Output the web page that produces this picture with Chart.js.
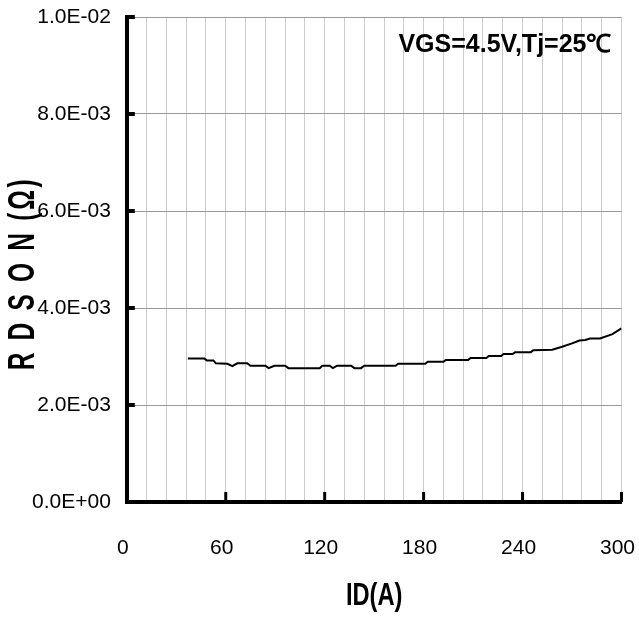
<!DOCTYPE html>
<html>
<head>
<meta charset="utf-8">
<script src="https://cdn.jsdelivr.net/npm/chart.js@4/dist/chart.umd.min.js"></script>
<style>
  html, body { margin: 0; padding: 0; background: #ffffff; }
  canvas { display: block; }
</style>
</head>
<body>
<canvas id="c" width="639" height="620"></canvas>
<script>
// ---- data ----
const idA = [37, 47, 48.5, 52.5, 54, 61, 64, 67, 73, 75, 84, 86, 89.5, 96, 98, 117, 118.5, 123, 125, 127.5,
             136, 138, 142, 144, 163, 164.5, 181, 182.5, 192, 193.5, 207, 208.5, 218, 219.5, 227, 228.5,
             234, 235.5, 245, 246.5, 258, 264, 270, 274.5, 278, 281, 287, 294.5, 300];
const rdsOn = [2.96e-3, 2.96e-3, 2.92e-3, 2.92e-3, 2.86e-3, 2.85e-3, 2.80e-3, 2.86e-3, 2.86e-3, 2.81e-3,
               2.81e-3, 2.76e-3, 2.81e-3, 2.81e-3, 2.76e-3, 2.76e-3, 2.81e-3, 2.81e-3, 2.76e-3, 2.81e-3,
               2.81e-3, 2.76e-3, 2.76e-3, 2.81e-3, 2.81e-3, 2.85e-3, 2.85e-3, 2.89e-3, 2.89e-3, 2.93e-3,
               2.93e-3, 2.97e-3, 2.97e-3, 3.01e-3, 3.01e-3, 3.05e-3, 3.05e-3, 3.09e-3, 3.09e-3, 3.13e-3,
               3.14e-3, 3.20e-3, 3.27e-3, 3.33e-3, 3.34e-3, 3.37e-3, 3.37e-3, 3.46e-3, 3.58e-3];
const xLabelValues = [0, 60, 120, 180, 240, 300];
const yTickValues = [0, 0.002, 0.004, 0.006, 0.008, 0.01];
const xTitle = 'ID(A)';
const yTitle = 'R D S O N (Ω)';
const noteText = 'VGS=4.5V,Tj=25℃';

const SANS = "'Liberation Sans', Arial, sans-serif";

function fmtE(v) {
  if (Math.abs(v) < 1e-12) return '0.0E+00';
  let e = Math.floor(Math.log10(Math.abs(v)) + 1e-9);
  let m = v / Math.pow(10, e);
  let ms = m.toFixed(1);
  if (ms === '10.0') { ms = '1.0'; e += 1; }
  const sign = e < 0 ? '-' : '+';
  const ea = Math.abs(e);
  return ms + 'E' + sign + (ea < 10 ? '0' + ea : '' + ea);
}

const points = idA.map((x, i) => ({ x: x, y: rdsOn[i] }));

const decorPlugin = {
  id: 'decor',
  afterDraw(chart) {
    const ctx = chart.ctx;
    const xs = chart.scales.x, ys = chart.scales.y;
    const area = chart.chartArea;
    ctx.save();
    ctx.strokeStyle = '#000';
    ctx.lineCap = 'butt';
    // inner y ticks
    ctx.lineWidth = 4;
    yTickValues.forEach(v => {
      if (v === 0) return;
      const py = ys.getPixelForValue(v);
      ctx.beginPath();
      ctx.moveTo(area.left, py);
      ctx.lineTo(area.left + 8, py);
      ctx.stroke();
    });
    // inner x ticks
    ctx.lineWidth = 3;
    xLabelValues.forEach(v => {
      if (v === 0) return;
      const px = xs.getPixelForValue(v);
      ctx.beginPath();
      ctx.moveTo(px, area.bottom);
      ctx.lineTo(px, area.bottom - 10);
      ctx.stroke();
    });
    ctx.restore();

    // y title (rotated, condensed)
    ctx.save();
    ctx.fillStyle = '#000';
    ctx.font = "bold 36px " + SANS;
    try { ctx.letterSpacing = '4px'; } catch (e) {}
    ctx.textAlign = 'center';
    ctx.textBaseline = 'middle';
    ctx.translate(24, (area.top + area.bottom) / 2 + 14);
    ctx.rotate(-Math.PI / 2);
    ctx.scale(0.68, 1);
    ctx.fillText(yTitle, 0, 0);
    ctx.restore();

    // x title (condensed)
    ctx.save();
    ctx.fillStyle = '#000';
    ctx.font = "bold 32px " + SANS;
    ctx.textAlign = 'center';
    ctx.textBaseline = 'middle';
    ctx.translate((area.left + area.right) / 2, 596);
    ctx.scale(0.74, 1);
    ctx.fillText(xTitle, 0, 0);
    ctx.restore();

    // annotation
    ctx.save();
    ctx.fillStyle = '#000';
    ctx.font = "bold 25px " + SANS;
    ctx.textAlign = 'right';
    ctx.textBaseline = 'middle';
    ctx.fillText(noteText, area.right - 10, area.top + 28);
    ctx.restore();
  }
};

new Chart(document.getElementById('c'), {
  type: 'line',
  data: {
    datasets: [{
      data: points,
      borderColor: '#000000',
      borderWidth: 2,
      pointRadius: 0,
      tension: 0,
      fill: false
    }]
  },
  options: {
    responsive: false,
    animation: false,
    devicePixelRatio: 1,
    layout: { padding: { left: 16, top: 17, right: 0, bottom: 26 } },
    plugins: { legend: { display: false }, tooltip: { enabled: false } },
    scales: {
      x: {
        type: 'linear',
        min: 0, max: 300,
        grid: { color: '#cccccc', lineWidth: 1, drawTicks: false },
        border: { color: '#000000', width: 4 },
        ticks: {
          stepSize: 12,
          autoSkip: false,
          maxRotation: 0,
          padding: 0,
          labelOffset: -4,
          color: '#000',
          font: { family: SANS, size: 21, lineHeight: '92px' },
          callback: (v) => (xLabelValues.includes(Math.round(v)) && Math.abs(v - Math.round(v)) < 1e-6) ? String(Math.round(v)) : ''
        }
      },
      y: {
        type: 'linear',
        min: 0, max: 0.01,
        grid: { color: '#999999', lineWidth: 1, drawTicks: false },
        border: { color: '#000000', width: 4 },
        ticks: {
          stepSize: 0.002,
          padding: 16,
          color: '#000',
          font: { family: SANS, size: 21, lineHeight: '1px' },
          callback: (v) => fmtE(v)
        }
      }
    }
  },
  plugins: [decorPlugin]
});
</script>
</body>
</html>
